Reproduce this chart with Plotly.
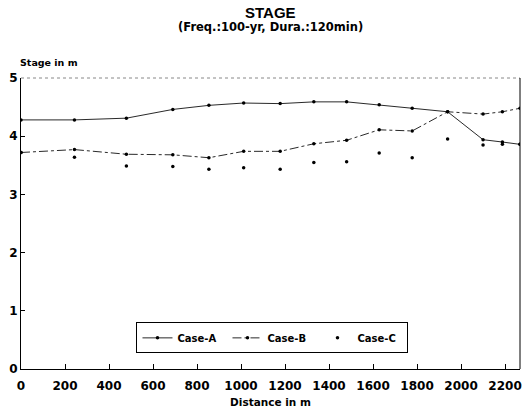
import plotly.graph_objects as go

distance = [0, 243, 479, 690, 854, 1012, 1178, 1331, 1480, 1628, 1778, 1939, 2100, 2188, 2268]
case_a = [4.28, 4.28, 4.31, 4.46, 4.53, 4.57, 4.56, 4.59, 4.59, 4.54, 4.48, 4.42, 3.94, 3.90, 3.86]
case_b = [3.72, 3.77, 3.69, 3.68, 3.63, 3.74, 3.74, 3.87, 3.93, 4.11, 4.09, 4.42, 4.38, 4.42, 4.48]
case_c = [3.72, 3.64, 3.49, 3.48, 3.43, 3.46, 3.43, 3.55, 3.56, 3.71, 3.63, 3.95, 3.85, 3.86, 3.86]

x_ticks = list(range(0, 2201, 200))
y_ticks = [0, 1, 2, 3, 4, 5]

FONT = "Liberation Sans"
WIDE = "DejaVu Sans"

fig = go.Figure()
fig.add_trace(go.Scatter(x=distance, y=case_a, name="Case-A", mode="lines+markers",
                         line=dict(color="#111", width=0.9),
                         marker=dict(size=3.5, color="black")))
fig.add_trace(go.Scatter(x=distance, y=case_b, name="Case-B", mode="lines+markers",
                         line=dict(color="#111", width=0.9, dash="dashdot"),
                         marker=dict(size=3.5, color="black")))
fig.add_trace(go.Scatter(x=distance, y=case_c, name="Case-C", mode="markers",
                         marker=dict(size=3.5, color="black")))

fig.update_layout(
    width=531, height=418,
    margin=dict(l=20, r=9, t=78, b=49),
    paper_bgcolor="white", plot_bgcolor="white",
    font=dict(family=WIDE, color="black", size=11),
    showlegend=True,
    legend=dict(orientation="h", x=0.504, y=0.107, xanchor="center", yanchor="middle",
                bordercolor="black", borderwidth=1, bgcolor="white",
                font=dict(family=WIDE, size=10, weight="bold"),
                entrywidth=45, itemwidth=30, tracegroupgap=0),
    xaxis=dict(range=[0, 2268], tickvals=x_ticks, ticks="inside", ticklen=5,
               tickcolor="black", showline=True, linecolor="black", linewidth=1,
               showgrid=False, zeroline=False, ticklabelstandoff=6,
               tickfont=dict(family=WIDE, size=12, weight="bold"),
               title=dict(text="Distance in m", font=dict(family=WIDE, size=10.5, weight="bold"),
                          standoff=6)),
    yaxis=dict(range=[0, 5], tickvals=y_ticks, ticks="inside", ticklen=4,
               tickcolor="black", showline=True, linecolor="black", linewidth=1,
               showgrid=False, zeroline=False,
               tickfont=dict(family=WIDE, size=12, weight="bold")),
)

fig.add_annotation(text="<b>STAGE</b>", xref="paper", yref="paper", x=0.5, y=1,
                   yshift=66, showarrow=False, font=dict(family=FONT, size=15),
                   xanchor="center", yanchor="middle")
fig.add_annotation(text="<b>(Freq.:100-yr, Dura.:120min)</b>", xref="paper", yref="paper",
                   x=0.5, y=1, yshift=51, showarrow=False, font=dict(family=WIDE, size=11.5),
                   xanchor="center", yanchor="middle")
fig.add_annotation(text="<b>Stage in m</b>", xref="paper", yref="paper", x=0, y=1,
                   xshift=-3, yshift=16, showarrow=False, font=dict(family=WIDE, size=9.5),
                   xanchor="left", yanchor="middle")

# frame: dotted top, solid right
fig.add_shape(type="line", xref="paper", yref="paper", x0=0, x1=1, y0=1, y1=1,
              line=dict(color="#888", width=1, dash="dot"))
fig.add_shape(type="line", xref="paper", yref="paper", x0=1, x1=1, y0=0, y1=1,
              line=dict(color="black", width=1))

fig.write_html("out.html")
